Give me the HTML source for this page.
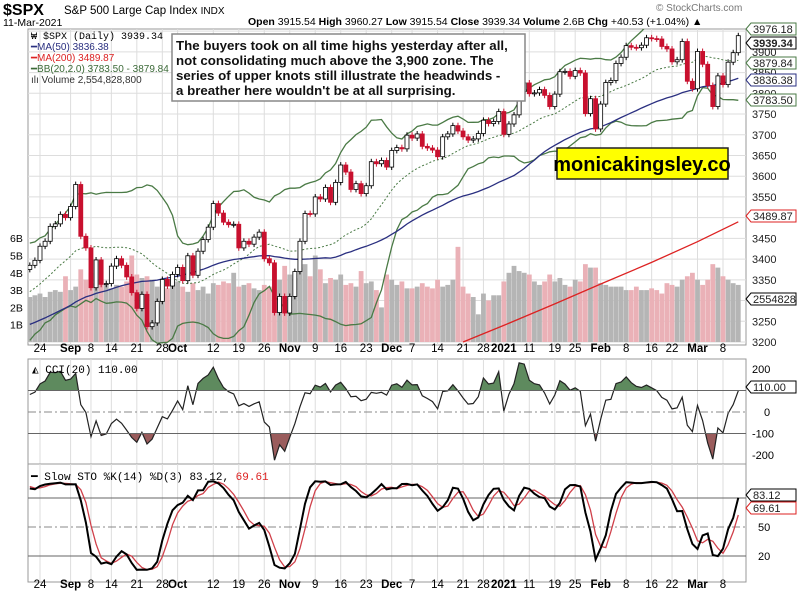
<!DOCTYPE html>
<html><head><meta charset="utf-8">
<style>
body{margin:0;background:#fff;}
svg{display:block;font-family:"Liberation Sans",Arial,sans-serif;}
</style></head>
<body>
<svg id="c" width="800" height="597" viewBox="0 0 800 597" xmlns="http://www.w3.org/2000/svg">
<text x="3" y="15" font-size="16" font-weight="bold">$SPX</text>
<text x="64" y="14" font-size="11.5">S&amp;P 500 Large Cap Index <tspan font-size="10">INDX</tspan></text>
<text x="3" y="26" font-size="10.5">11-Mar-2021</text>
<text x="248" y="25" font-size="10.5"><tspan font-weight="bold">Open</tspan> 3915.54 <tspan font-weight="bold">High</tspan> 3960.27 <tspan font-weight="bold">Low</tspan> 3915.54 <tspan font-weight="bold">Close</tspan> 3939.34 <tspan font-weight="bold">Volume</tspan> 2.6B <tspan font-weight="bold">Chg</tspan> +40.53 (+1.04%) ▲</text>
<text x="656" y="11" font-size="10" fill="#777">© StockCharts.com</text>
<g id="main"></g>
</svg>
<script>
const priorCloses=[3190,3150,3160,3170,3180,3200,3190,3210,3200,3180,3131,3140,3150,3160,3170,3180,3185,3190,3200,3210,3180,3169,3185,3200,3198,3226,3215,3224,3251,3257,
3236,3216,3239,3218,3258,3246,3271,3295,3306,3327,3349,3351,3360,3333,3380,3373,3373,3381,3389,3375];
const closes=[3385,3397,3431,3443,3479,3485,3508,3500,
3527,3580,3455,3427,3331,3398,3339,3341,3383,3401,3385,3357,3319,3281,3315,3237,3246,3298,3351,3335,3363,
3380,3348,3408,3361,3419,3447,3477,3534,3511,3489,3483,3484,3427,3443,3436,3453,3465,3401,3391,3271,3310,3270,
3310,3370,3443,3510,3509,3550,3545,3573,3537,3585,3627,3610,3568,3582,3558,3577,3635,3630,3638,3622,
3662,3669,3666,3699,3692,3702,3672,3668,3663,3647,3695,3702,3722,3709,3695,3687,3690,3703,3735,3727,3732,3756,
3701,3726,3748,3804,3825,3799,3801,3809,3795,3768,3798,3852,3853,3841,3855,3849,3751,3787,3714,
3774,3826,3831,3872,3887,3915,3911,3910,3916,3934,3932,3931,3913,3907,3876,3881,3925,3829,3811,
3901,3870,3819,3768,3842,3821,3875,3898,3939];
const volumes=[2.6,2.7,2.8,2.6,2.9,3.0,2.9,3.8,
3.0,3.2,4.2,3.6,4.0,3.4,3.6,3.3,3.1,3.3,3.2,3.5,5.0,3.9,3.7,3.8,3.6,3.2,3.0,3.1,3.6,
3.5,3.2,2.9,3.4,3.0,3.2,2.8,3.4,3.3,3.5,3.4,4.0,3.2,3.3,3.4,3.1,3.0,3.3,3.2,4.3,3.6,4.4,
3.9,3.7,4.3,4.5,3.8,5.0,4.2,3.4,3.7,3.6,3.9,3.3,3.4,3.2,4.1,3.4,3.5,3.0,2.0,3.9,
3.6,3.3,3.5,3.1,3.1,3.2,3.4,3.2,3.1,3.6,3.2,3.3,3.6,5.5,3.2,2.8,2.6,1.6,2.8,2.4,2.7,2.7,
3.5,4.0,4.4,4.1,4.0,3.9,3.5,3.3,3.5,3.9,3.5,3.7,3.3,3.2,3.6,3.5,4.5,4.3,4.3,
3.4,3.3,3.2,3.2,3.2,3.0,3.0,3.2,3.0,3.0,3.1,3.0,2.8,3.4,3.3,3.2,3.6,3.8,4.0,
3.6,3.3,3.6,4.5,4.3,3.8,3.6,3.4,3.3];
const ma200=[[85,3200],[93,3240],[103,3292],[112,3340],[122,3392],[131,3442],[139,3489.87]];
const tickLabels=["24","Sep","8","14","21","28","Oct","12","19","26","Nov","9","16","23","Dec","7","14","21","28","2021","11","19","25","Feb","8","16","22","Mar","8"];
const tickIdx=[2,8,12,16,21,26,29,36,41,46,51,56,61,66,71,75,80,85,89,93,98,103,107,112,117,122,126,131,136];
const tickBold=[0,1,0,0,0,0,1,0,0,0,1,0,0,0,1,0,0,0,0,1,0,0,0,1,0,0,0,1,0];

const NS="http://www.w3.org/2000/svg";
const g=document.getElementById('main');
function el(t,a,p){const e=document.createElementNS(NS,t);for(const k in a)e.setAttribute(k,a[k]);(p||g).appendChild(e);return e;}
const L=28,R=746;
const X=i=>40+(i-2)*5.097;
const PY=p=>342-(p-3200)*0.4145;
const VY=v=>342-v*17.3;
const CY=v=>412-v*0.215;
const SY=v=>527-(v-50)*0.967;
const all=priorCloses.concat(closes);const P=priorCloses.length;
const opens=closes.map((c,i)=>all[P+i-1]);
const highs=closes.map((c,i)=>Math.max(c,opens[i])+7);
const lows=closes.map((c,i)=>Math.min(c,opens[i])-7);
const pts=a=>a.map(p=>p[0].toFixed(1)+','+p[1].toFixed(1)).join(' ');

const panels=[[29,345],[359,464],[464,582]];
panels.forEach((p,k)=>{
  const r=el('rect',{x:L,y:p[0],width:R-L,height:p[1]-p[0],fill:'#fff',stroke:'#999','stroke-width':1});
  
  
  tickIdx.forEach(i=>el('line',{x1:X(i),x2:X(i),y1:p[0],y2:p[1],stroke:'#ddd'}));
});
for(let v=3200;v<=3950;v+=50){
  el('line',{x1:L,x2:R,y1:PY(v),y2:PY(v),stroke:'#ddd'});
  const t=el('text',{x:752,y:PY(v)+4,'font-size':11,fill:'#222'});t.textContent=v;
  
  
}
for(let v=1;v<=6;v++){const t=el('text',{x:10,y:VY(v)+4,'font-size':10.5});t.textContent=v+'B';
  
  }
closes.forEach((c,i)=>{const up=c>=all[P+i-1];
  const b=el('rect',{x:X(i)-2.4,y:VY(volumes[i]),width:4.8,height:342-VY(volumes[i]),fill:up?'#b5b5b5':'#eab1b7'});
  
  });
const ma50=[],bbU=[],bbL=[],bbM=[];
closes.forEach((c,i)=>{const k=P+i;
  const w50=all.slice(k-49,k+1);ma50.push([X(i),PY(w50.reduce((a,b)=>a+b)/w50.length)]);
  const w=all.slice(k-19,k+1);const m=w.reduce((a,b)=>a+b)/20;const sd=Math.sqrt(w.reduce((a,b)=>a+(b-m)*(b-m),0)/20);
  bbM.push([X(i),PY(m)]);bbU.push([X(i),PY(m+2*sd)]);bbL.push([X(i),PY(m-2*sd)]);});
const cp=el('clipPath',{id:'pc'});el('rect',{x:L,y:29,width:R-L,height:316},cp);
const pg=el('g',{'clip-path':'url(#pc)'});
[[bbU,'#4a7a45',1.3,''],[bbL,'#4a7a45',1.3,''],[bbM,'#4a7a45',1,'2,2'],[ma50,'#2a2f80',1.3,'']].forEach((s,k)=>{
  const l=el('polyline',{points:pts(s[0]),fill:'none',stroke:s[1],'stroke-width':s[2],'stroke-dasharray':s[3]},pg);
  
  });
const m2=el('polyline',{points:pts(ma200.map(p=>[X(p[0]),PY(p[1])])),fill:'none',stroke:'#d22','stroke-width':1.3},pg);


closes.forEach((c,i)=>{const o=opens[i],x=X(i);const down=c<o;
  const col=down?'#c8102e':'#000';
  el('line',{x1:x,x2:x,y1:PY(highs[i]),y2:PY(lows[i]),stroke:col},pg);
  const top=PY(Math.max(o,c)),h=Math.max(1,Math.abs(PY(o)-PY(c)));
  const r=el('rect',{x:x-2,y:top,width:4,height:h,fill:down?col:'#fff',stroke:col,'stroke-width':0.8},pg);
  
  });
const cci=[];
closes.forEach((c,i)=>{const k=P+i;const w=[];for(let j=k-19;j<=k;j++)w.push(all[j]);
  const m=w.reduce((a,b)=>a+b)/20;const md=w.reduce((a,b)=>a+Math.abs(b-m),0)/20;cci.push((all[k]-m)/(0.015*md||1));});
const cclip=el('clipPath',{id:'cc'});el('rect',{x:L,y:359,width:R-L,height:105},cclip);
const cg=el('g',{'clip-path':'url(#cc)'});
const ccPts=cci.map((v,i)=>[X(i),CY(Math.max(-250,Math.min(230,v)))]);
const ca=el('clipPath',{id:'ca'});el('rect',{x:L,y:340,width:R-L,height:CY(100)-340},ca);
const cb=el('clipPath',{id:'cb'});el('rect',{x:L,y:CY(-100),width:R-L,height:60},cb);
const f1=el('polygon',{points:pts([[X(0),CY(100)]].concat(ccPts,[[X(139),CY(100)]])),fill:'#5e8a5e','clip-path':'url(#ca)'},cg);

const f2=el('polygon',{points:pts([[X(0),CY(-100)]].concat(ccPts,[[X(139),CY(-100)]])),fill:'#9a5c5c','clip-path':'url(#cb)'},cg);

el('line',{x1:L,x2:R,y1:CY(100),y2:CY(100),stroke:'#666'});
el('line',{x1:L,x2:R,y1:CY(-100),y2:CY(-100),stroke:'#666'});
el('line',{x1:L,x2:R,y1:CY(0),y2:CY(0),stroke:'#888','stroke-dasharray':'8,3,2,3'});
const cl=el('polyline',{points:pts(ccPts),fill:'none',stroke:'#222','stroke-width':1.2},cg);

[[200,'200'],[0,'0'],[-100,'-100'],[-200,'-200']].forEach(a=>{const t=el('text',{x:a[0]==0?764:752,y:CY(a[0])+4,'font-size':11});t.textContent=a[1];
  });
const H=all.map((c,j)=>j<P?c+7:highs[j-P]),Lo=all.map((c,j)=>j<P?c-7:lows[j-P]);
const raw=all.map((c,j)=>{const s=Math.max(0,j-13);const hh=Math.max(...H.slice(s,j+1)),ll=Math.min(...Lo.slice(s,j+1));return (c-ll)/(hh-ll)*100;});
const sk=raw.map((v,j)=>{const w=raw.slice(Math.max(0,j-2),j+1);return w.reduce((a,b)=>a+b)/w.length;});
const sd=sk.map((v,j)=>{const w=sk.slice(Math.max(0,j-2),j+1);return w.reduce((a,b)=>a+b)/w.length;});
[80,20].forEach(v=>el('line',{x1:L,x2:R,y1:SY(v),y2:SY(v),stroke:'#666'}));
el('line',{x1:L,x2:R,y1:SY(50),y2:SY(50),stroke:'#888','stroke-dasharray':'8,3,2,3'});
const sclip=el('clipPath',{id:'sc'});el('rect',{x:L,y:464,width:R-L,height:118},sclip);
const sg=el('g',{'clip-path':'url(#sc)'});
const dl=el('polyline',{points:pts(closes.map((c,i)=>[X(i),SY(sd[P+i])])),fill:'none',stroke:'#d0404a','stroke-width':1.3},sg);

const kl=el('polyline',{points:pts(closes.map((c,i)=>[X(i),SY(sk[P+i])])),fill:'none',stroke:'#000','stroke-width':2},sg);

[[50,'50'],[20,'20']].forEach(a=>{const t=el('text',{x:758,y:SY(a[0])+4,'font-size':11});t.textContent=a[1];
  });
[352,588].forEach(y=>tickIdx.forEach((i,k)=>{const t=el('text',{x:X(i),y:y,'font-size':11.5,'text-anchor':'middle','font-weight':tickBold[k]?'bold':'normal'});t.textContent=tickLabels[k];
  }));
function tag(y,txt,col,bold,name){const gg=el('g',{});
  el('polygon',{points:`746,${y} 751,${y-6} 796,${y-6} 796,${y+6} 751,${y+6}`,fill:'#fff',stroke:col,'stroke-width':1},gg);
  const t=el('text',{x:753,y:y+4,'font-size':11,'font-weight':bold?'bold':'normal',fill:'#222'},gg);t.textContent=txt;
  
  }
tag(29,'3976.18','#4a7a45',0,'bb-upper-tag');
tag(43,'3939.34','#000',1,'last-price-tag');
tag(63,'3879.84','#4a7a45',0,'bb-middle-tag');
tag(80,'3836.38','#2a2f80',0,'ma50-tag');
tag(100,'3783.50','#4a7a45',0,'bb-lower-tag');
tag(216,'3489.87','#d22',0,'ma200-tag');
tag(299,'2554828','#000',0,'volume-tag');
tag(387,'110.00','#000',0,'cci-tag');
tag(495,'83.12','#000',0,'sto-k-tag');
tag(508,'69.61','#d22',0,'sto-d-tag');
function txt(x,y,s,attrs,name){const t=el('text',Object.assign({x:x,y:y},attrs));t.textContent=s;
  return t;}
txt(31,39,'₩ $SPX (Daily) 3939.34',{'font-size':10,'font-family':'Liberation Mono, monospace'},'legend-spx');
txt(31,50,'━MA(50) 3836.38',{'font-size':10,fill:'#2a2f80'},'legend-ma50');
txt(31,61,'━MA(200) 3489.87',{'font-size':10,fill:'#d22'},'legend-ma200');
txt(31,72,'━BB(20,2.0) 3783.50 - 3879.84',{'font-size':10,fill:'#3c6a38'},'legend-bb');
txt(31,83,'ılı Volume 2,554,828,800',{'font-size':10,fill:'#333'},'legend-volume');
txt(32,373,'◭ CCI(20) 110.00',{'font-size':11,'font-family':'Liberation Mono, monospace'},'legend-cci');
const st=txt(31,480,'━ Slow STO %K(14) %D(3) 83.12, ',{'font-size':11,'font-family':'Liberation Mono, monospace'},'legend-sto');
const sp=document.createElementNS(NS,'tspan');sp.setAttribute('fill','#d22');sp.textContent='69.61';st.appendChild(sp);
const ab=el('rect',{x:172,y:34,width:353,height:67,fill:'#fff',stroke:'#888','stroke-width':1.5});

['The buyers took on all time highs yesterday after all,','not consolidating much above the 3,900 zone. The','series of upper knots still illustrate the headwinds -','a breather here wouldn\'t be at all surprising.'].forEach((s,k)=>
  txt(176,50+k*15,s,{'font-size':13.3,'font-weight':'bold',fill:'#111'},'annotation-line'));
const yb=el('rect',{x:557,y:148,width:171,height:31,fill:'#ffff00',stroke:'#222','stroke-width':1.5});

txt(642,171,'monicakingsley.co',{'font-size':20,'font-weight':'bold','text-anchor':'middle'},'website-label');
</script>
</body></html>
